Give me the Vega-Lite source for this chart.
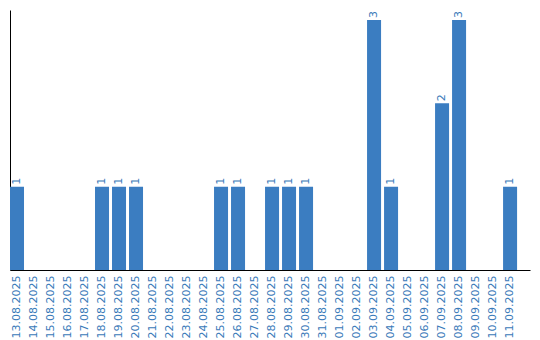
{
  "$schema": "https://vega.github.io/schema/vega-lite/v6.json",
  "autosize": "none",
  "width": 520,
  "height": 260,
  "padding": {"left": 10, "top": 10, "right": 10, "bottom": 70},
  "background": "white",
  "config": {
    "view": {"stroke": null},
    "font": "DejaVu Sans"
  },
  "data": {
    "values": [
      {"date": "13.08.2025", "count": 1},
      {"date": "14.08.2025", "count": 0},
      {"date": "15.08.2025", "count": 0},
      {"date": "16.08.2025", "count": 0},
      {"date": "17.08.2025", "count": 0},
      {"date": "18.08.2025", "count": 1},
      {"date": "19.08.2025", "count": 1},
      {"date": "20.08.2025", "count": 1},
      {"date": "21.08.2025", "count": 0},
      {"date": "22.08.2025", "count": 0},
      {"date": "23.08.2025", "count": 0},
      {"date": "24.08.2025", "count": 0},
      {"date": "25.08.2025", "count": 1},
      {"date": "26.08.2025", "count": 1},
      {"date": "27.08.2025", "count": 0},
      {"date": "28.08.2025", "count": 1},
      {"date": "29.08.2025", "count": 1},
      {"date": "30.08.2025", "count": 1},
      {"date": "31.08.2025", "count": 0},
      {"date": "01.09.2025", "count": 0},
      {"date": "02.09.2025", "count": 0},
      {"date": "03.09.2025", "count": 3},
      {"date": "04.09.2025", "count": 1},
      {"date": "05.09.2025", "count": 0},
      {"date": "06.09.2025", "count": 0},
      {"date": "07.09.2025", "count": 2},
      {"date": "08.09.2025", "count": 3},
      {"date": "09.09.2025", "count": 0},
      {"date": "10.09.2025", "count": 0},
      {"date": "11.09.2025", "count": 1}
    ]
  },
  "encoding": {
    "x": {
      "field": "date",
      "type": "ordinal",
      "sort": null,
      "scale": {"paddingInner": 0.176, "paddingOuter": 0.38, "align": 0},
      "axis": {
        "title": null,
        "labelAngle": -90,
        "labelAlign": "right",
        "labelBaseline": "middle",
        "labelFont": "DejaVu Sans",
        "labelFontSize": 11,
        "labelColor": "#3a7ab9",
        "labelPadding": 5,
        "ticks": false,
        "domainColor": "#000000",
        "domainWidth": 1,
        "grid": false
      }
    },
    "y": {
      "field": "count",
      "type": "quantitative",
      "scale": {"domain": [0, 3.12], "nice": false, "zero": true},
      "axis": {
        "title": null,
        "labels": false,
        "ticks": false,
        "grid": false,
        "domainColor": "#000000",
        "domainWidth": 1
      }
    }
  },
  "layer": [
    {
      "mark": {"type": "bar", "color": "#3b7dc1"}
    },
    {
      "transform": [{"filter": "datum.count > 0"}],
      "mark": {
        "type": "text",
        "angle": 270,
        "align": "left",
        "baseline": "middle",
        "dx": 2,
        "font": "DejaVu Sans",
        "fontSize": 11,
        "color": "#3a7ab9"
      },
      "encoding": {
        "text": {"field": "count", "type": "quantitative"}
      }
    }
  ]
}
